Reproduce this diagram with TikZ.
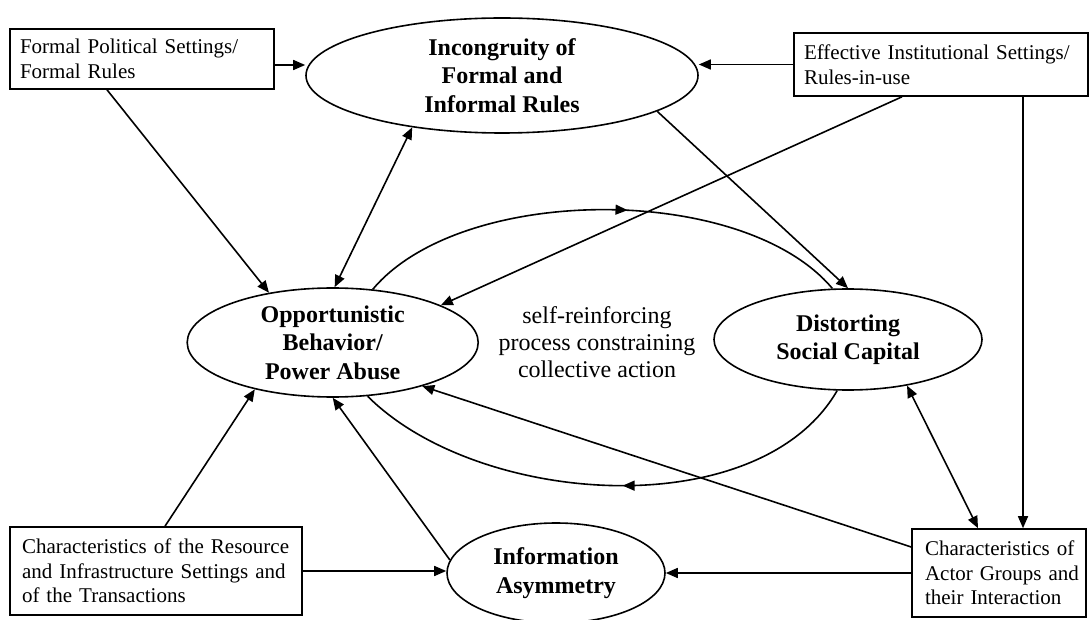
\documentclass[tikz,border=0pt]{standalone}
\usepackage{fontspec}
\setmainfont{Liberation Serif}
\usetikzlibrary{shapes.geometric,arrows.meta,decorations.markings}

\begin{document}
\begin{tikzpicture}[x=1pt,y=1pt,line width=1.6pt,
  >={Triangle[length=12pt,width=10pt]},
  box/.style={draw,rectangle,font=\fontsize{21}{24.5}\selectfont,align=left,inner ysep=0pt},
  oval/.style={draw,ellipse,font=\fontsize{24}{28.5}\selectfont\bfseries,align=center,inner sep=-4pt},
  loopmid/.style={postaction={decorate,decoration={markings,mark=at position #1 with {\arrow{>}}}}}]
\useasboundingbox (0,0) rectangle (1091,619);

% outer settings
\node[box,minimum width=264pt,minimum height=60pt,text width=244pt,inner xsep=10pt] (fpr) at (142,560)
  {Formal Political Settings/\\Formal Rules};
\node[box,minimum width=294pt,minimum height=63pt,text width=274pt,inner xsep=10pt] (eis) at (941,554.5)
  {Effective Institutional Settings/\\Rules-in-use};
\node[box,minimum width=292pt,minimum height=88pt,text width=268pt,inner xsep=12pt] (crs) at (156,48)
  {Characteristics of the Resource\\and Infrastructure Settings and\\of the Transactions};
\node[box,minimum width=174pt,minimum height=88pt,text width=148pt,inner xsep=13pt] (cag) at (999,46)
  {\mbox{Characteristics of}\\\mbox{Actor Groups and}\\\mbox{their Interaction}};

% core elements
\node[oval,minimum width=392pt,minimum height=115pt] (ice) at (502,543.5)
  {Incongruity of\\Formal and\\Informal Rules};
\node[oval,minimum width=291pt,minimum height=109pt] (opp) at (332.7,276.5)
  {Opportunistic\\Behavior/\\Power Abuse};
\node[oval,minimum width=268pt,minimum height=101pt] (dsc) at (848,279.5)
  {Distorting\\Social Capital};
\node[oval,minimum width=218pt,minimum height=100pt] (info) at (556,46)
  {Information\\Asymmetry};
\node[font=\fontsize{24}{27}\selectfont,align=center] (loop) at (597,277)
  {self-reinforcing\\process constraining\\collective action};

% connectors
\draw[->] ([yshift=-6pt]fpr.east) -- ([yshift=-6pt]fpr.east -| ice.west);
\draw[->] (eis.west) -- (eis.west -| ice.east);
\draw[->] ([xshift=-35pt]fpr.south) -- (opp.142);
\draw[<->] (opp.88) -- (ice.210);
\draw[->] (ice.347) -- (dsc.north);
\draw[->] ([xshift=-39pt]eis.south) -- (opp.19);
\draw[->] ([xshift=82pt]eis.south) -- ([xshift=82pt]eis.south |- cag.north);
\draw[<->] (dsc.322) -- ([xshift=-21pt]cag.north);
\draw[->] ([yshift=26pt]cag.west) -- (opp.334);
\draw[->] (cag.west) -- (info.east);
\draw[->] (crs.east) -- (crs.east -| info.west);
\draw[->] ([xshift=9pt]crs.north) -- (opp.211);
\draw[->] (info.173) -- (opp.south);

% the loop
\draw[loopmid=0.55] (opp.53) to[out=50,in=130,looseness=0.77] (dsc.107);
\draw[loopmid=0.47] (dsc.258) to[out=-120,in=-45,looseness=0.85] (opp.303);
\end{tikzpicture}
\end{document}
